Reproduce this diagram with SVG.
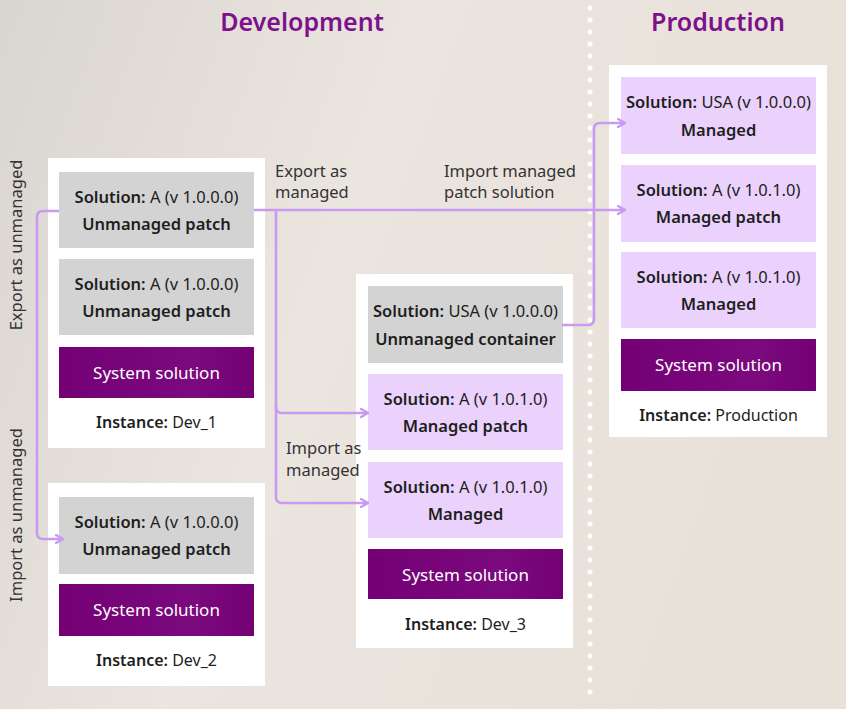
<svg xmlns="http://www.w3.org/2000/svg" width="846" height="709" viewBox="0 0 846 709">
<defs>
<linearGradient id="bg" x1="0" y1="0" x2="1" y2="0.3">
<stop offset="0" stop-color="#d9d5d0"/>
<stop offset="0.45" stop-color="#ebe5df"/>
<stop offset="1" stop-color="#e8e1da"/>
</linearGradient>
<linearGradient id="sys" x1="0" y1="0" x2="1" y2="0">
<stop offset="0" stop-color="#740074"/>
<stop offset="0.7" stop-color="#7a0a7e"/>
<stop offset="1" stop-color="#740074"/>
</linearGradient>
<marker id="arr" viewBox="0 0 10 10" refX="8" refY="5" markerWidth="10" markerHeight="10" markerUnits="userSpaceOnUse" orient="auto">
<path d="M1,1 L8,5 L1,9" fill="none" stroke="#c89af2" stroke-width="2.4" stroke-linecap="round" stroke-linejoin="round"/>
</marker>
</defs>
<style>
text{font-family:"Noto Sans","Open Sans","Liberation Sans",sans-serif;fill:#1e1e1e}
.t{font-size:16.5px;text-anchor:middle}
.b{font-weight:600}
.title{font-size:25px;font-weight:600;fill:#7d118c;text-anchor:middle}
.lbl{font-size:16.5px;fill:#333}
.cont{fill:#ffffff}
.gray{fill:#d3d3d3}
.lav{fill:#ebd2fc}
.sys{fill:url(#sys)}
.syst{font-size:17px;fill:#ffffff;text-anchor:middle}
.inst{font-size:16px;text-anchor:middle}
.conn{fill:none;stroke:#c89af2;stroke-width:2.6;stroke-linejoin:round}
</style>
<rect width="846" height="709" fill="url(#bg)"/>
<line x1="590" y1="8" x2="590" y2="700" stroke="#ffffff" stroke-width="5" stroke-linecap="round" stroke-dasharray="0 12"/>
<text class="title" x="302" y="31">Development</text>
<text class="title" x="718" y="31">Production</text>

<g id="dev1">
<rect class="cont" x="48" y="158" width="217" height="290"/>
<rect class="gray" x="59" y="172" width="195" height="76"/>
<text class="t" x="156.5" y="203"><tspan class="b">Solution:</tspan> A (v 1.0.0.0)</text>
<text class="t b" x="156.5" y="230">Unmanaged patch</text>
<rect class="gray" x="59" y="259" width="195" height="76"/>
<text class="t" x="156.5" y="290"><tspan class="b">Solution:</tspan> A (v 1.0.0.0)</text>
<text class="t b" x="156.5" y="317">Unmanaged patch</text>
<rect class="sys" x="59" y="347" width="195" height="51"/>
<text class="syst" x="156.5" y="378.5">System solution</text>
<text class="inst" x="156.5" y="428"><tspan class="b">Instance:</tspan> Dev_1</text>
</g>

<g id="dev2">
<rect class="cont" x="48" y="483" width="217" height="203"/>
<rect class="gray" x="59" y="497" width="195" height="77"/>
<text class="t" x="156.5" y="528"><tspan class="b">Solution:</tspan> A (v 1.0.0.0)</text>
<text class="t b" x="156.5" y="555">Unmanaged patch</text>
<rect class="sys" x="59" y="584" width="195" height="52"/>
<text class="syst" x="156.5" y="616">System solution</text>
<text class="inst" x="156.5" y="666"><tspan class="b">Instance:</tspan> Dev_2</text>
</g>

<g id="dev3">
<rect class="cont" x="356" y="274" width="217" height="374"/>
<rect class="gray" x="368" y="286" width="195" height="77"/>
<text class="t" x="465.5" y="317"><tspan class="b">Solution:</tspan> USA (v 1.0.0.0)</text>
<text class="t b" x="465.5" y="345">Unmanaged container</text>
<rect class="lav" x="368" y="374" width="195" height="76"/>
<text class="t" x="465.5" y="405"><tspan class="b">Solution:</tspan> A (v 1.0.1.0)</text>
<text class="t b" x="465.5" y="432">Managed patch</text>
<rect class="lav" x="368" y="462" width="195" height="76"/>
<text class="t" x="465.5" y="493"><tspan class="b">Solution:</tspan> A (v 1.0.1.0)</text>
<text class="t b" x="465.5" y="520">Managed</text>
<rect class="sys" x="368" y="549" width="195" height="50"/>
<text class="syst" x="465.5" y="580.5">System solution</text>
<text class="inst" x="465.5" y="630"><tspan class="b">Instance:</tspan> Dev_3</text>
</g>

<g id="production">
<rect class="cont" x="609" y="65" width="218" height="372"/>
<rect class="lav" x="621" y="77" width="195" height="77"/>
<text class="t" x="718.5" y="108"><tspan class="b">Solution:</tspan> USA (v 1.0.0.0)</text>
<text class="t b" x="718.5" y="136">Managed</text>
<rect class="lav" x="621" y="165" width="195" height="77"/>
<text class="t" x="718.5" y="196"><tspan class="b">Solution:</tspan> A (v 1.0.1.0)</text>
<text class="t b" x="718.5" y="223">Managed patch</text>
<rect class="lav" x="621" y="252" width="195" height="76"/>
<text class="t" x="718.5" y="283"><tspan class="b">Solution:</tspan> A (v 1.0.1.0)</text>
<text class="t b" x="718.5" y="310">Managed</text>
<rect class="sys" x="621" y="339" width="195" height="52"/>
<text class="syst" x="718.5" y="371">System solution</text>
<text class="inst" x="718.5" y="421"><tspan class="b">Instance:</tspan> Production</text>
</g>

<g id="connectors">
<path class="conn" d="M59,211 H43 Q37,211 37,217 V533 Q37,539 43,539 H63" marker-end="url(#arr)"/>
<path class="conn" d="M254,210 H625" marker-end="url(#arr)"/>
<path class="conn" d="M276,210 V407 Q276,413 282,413 H368" marker-end="url(#arr)"/>
<path class="conn" d="M276,405 V497 Q276,503 282,503 H368" marker-end="url(#arr)"/>
<path class="conn" d="M562,325 H588 Q594,325 594,319 V129 Q594,123 600,123 H625" marker-end="url(#arr)"/>
</g>

<g id="labels">
<text class="lbl" transform="translate(22,245) rotate(-90)" text-anchor="middle">Export as unmanaged</text>
<text class="lbl" transform="translate(22,515) rotate(-90)" text-anchor="middle">Import as unmanaged</text>
<text class="lbl" x="275" y="177">Export as</text>
<text class="lbl" x="275" y="198">managed</text>
<text class="lbl" x="444" y="177">Import managed</text>
<text class="lbl" x="444" y="198">patch solution</text>
<text class="lbl" x="286" y="454">Import as</text>
<text class="lbl" x="286" y="476">managed</text>
</g>
</svg>
